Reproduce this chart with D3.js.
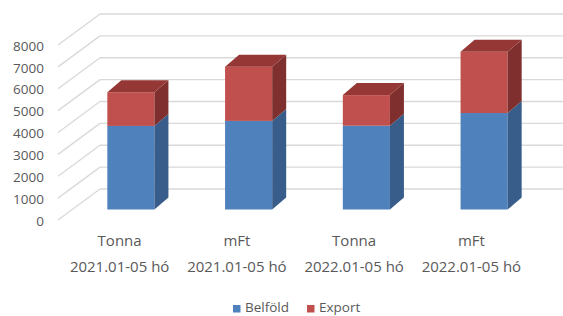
<!DOCTYPE html>
<html>
<head>
<meta charset="utf-8">
<script src="https://cdn.jsdelivr.net/npm/d3@7"></script>
<style>
  html, body { margin: 0; padding: 0; background: #fff; }
  svg { display: block; }
  text { font-family: "Open Sans", "Liberation Sans", sans-serif; fill: #595959; }
</style>
</head>
<body>
<svg id="chart" width="563" height="316"></svg>
<script>
// ---- data ----
const units = ["Tonna", "mFt", "Tonna", "mFt"];
const periods = ["2021.01-05 hó", "2021.01-05 hó", "2022.01-05 hó", "2022.01-05 hó"];
const belfold = [3820, 4050, 3830, 4410];
const exportVals = [1540, 2480, 1400, 2800];
const seriesNames = ["Belföld", "Export"];
const yTicks = [0, 1000, 2000, 3000, 4000, 5000, 6000, 7000, 8000];

// ---- layout ----
const W = 563, H = 316;
const svg = d3.select("#chart");
const idx = d3.range(units.length);

const frontX = 58, backX = 100;
const yWallFront = d3.scaleLinear().domain([0, 8000]).range([220, 45]);
const yWallBack = d3.scaleLinear().domain([0, 8000]).range([189, 14]);
const yBar = d3.scaleLinear().domain([0, 8000]).range([209.5, 34.5]);

const xBar = d3.scaleBand().domain(idx).range([72, 543]).paddingInner(0.6).paddingOuter(0.3);
const xLab = d3.scaleBand().domain(idx).range([61, 530]);

const depth = { dx: 14, dy: -12 };

const colors = {
  Belföld: { front: "#4F81BD", side: "#385D8A", top: "#3F6797" },
  Export: { front: "#C0504D", side: "#7F2F2D", top: "#953735" }
};

// ---- gridlines ----
const grid = svg.append("g");
grid.selectAll("line.diag").data(yTicks).join("line")
  .attr("x1", frontX).attr("y1", d => yWallFront(d))
  .attr("x2", backX).attr("y2", d => yWallBack(d))
  .attr("stroke", "#D9D9D9").attr("stroke-width", 1.3);
grid.selectAll("line.back").data(yTicks).join("line")
  .attr("x1", backX).attr("y1", d => yWallBack(d))
  .attr("x2", W).attr("y2", d => yWallBack(d))
  .attr("stroke", "#D9D9D9").attr("stroke-width", 1.3);

// ---- y labels ----
svg.append("g").selectAll("text").data(yTicks).join("text")
  .attr("x", 44).attr("y", d => yWallFront(d) + 1)
  .attr("dy", "0.35em")
  .attr("text-anchor", "end")
  .style("font-size", "13.5px")
  .text(d => d);

// ---- bars ----
const stacked = idx.map(i => [
  { s: "Belföld", v0: 0, v1: belfold[i], top: false },
  { s: "Export", v0: belfold[i], v1: belfold[i] + exportVals[i], top: true }
]);

const bars = svg.append("g");
idx.forEach(i => {
  const x0 = xBar(i), bw = xBar.bandwidth(), x1 = x0 + bw;
  stacked[i].forEach(seg => {
    const c = colors[seg.s];
    const yb = yBar(seg.v0), yt = yBar(seg.v1);
    bars.append("rect")
      .attr("x", x0).attr("y", yt).attr("width", bw).attr("height", yb - yt)
      .attr("fill", c.front);
    bars.append("polygon")
      .attr("points", [[x1, yb], [x1 + depth.dx, yb + depth.dy], [x1 + depth.dx, yt + depth.dy], [x1, yt]].map(p => p.join(",")).join(" "))
      .attr("fill", c.side);
    if (seg.top) {
      bars.append("polygon")
        .attr("points", [[x0, yt], [x0 + depth.dx, yt + depth.dy], [x1 + depth.dx, yt + depth.dy], [x1, yt]].map(p => p.join(",")).join(" "))
        .attr("fill", c.top);
    }
  });
});

// ---- category labels ----
const labs = svg.append("g").style("font-size", "15px").attr("text-anchor", "middle");
labs.selectAll("text.u").data(idx).join("text")
  .attr("x", i => xLab(i) + xLab.bandwidth() / 2).attr("y", 246)
  .text(i => units[i]);
labs.selectAll("text.p").data(idx).join("text")
  .attr("x", i => xLab(i) + xLab.bandwidth() / 2).attr("y", 271.5)
  .text(i => periods[i]);

// ---- legend ----
const legendX = [233, 307];
const lg = svg.append("g");
seriesNames.forEach((s, k) => {
  lg.append("rect").attr("x", legendX[k]).attr("y", 305).attr("width", 7.5).attr("height", 7.5)
    .attr("fill", colors[s].front);
  lg.append("text").attr("x", legendX[k] + 12).attr("y", 312)
    .style("font-size", "13.5px").text(s);
});
</script>
</body>
</html>
